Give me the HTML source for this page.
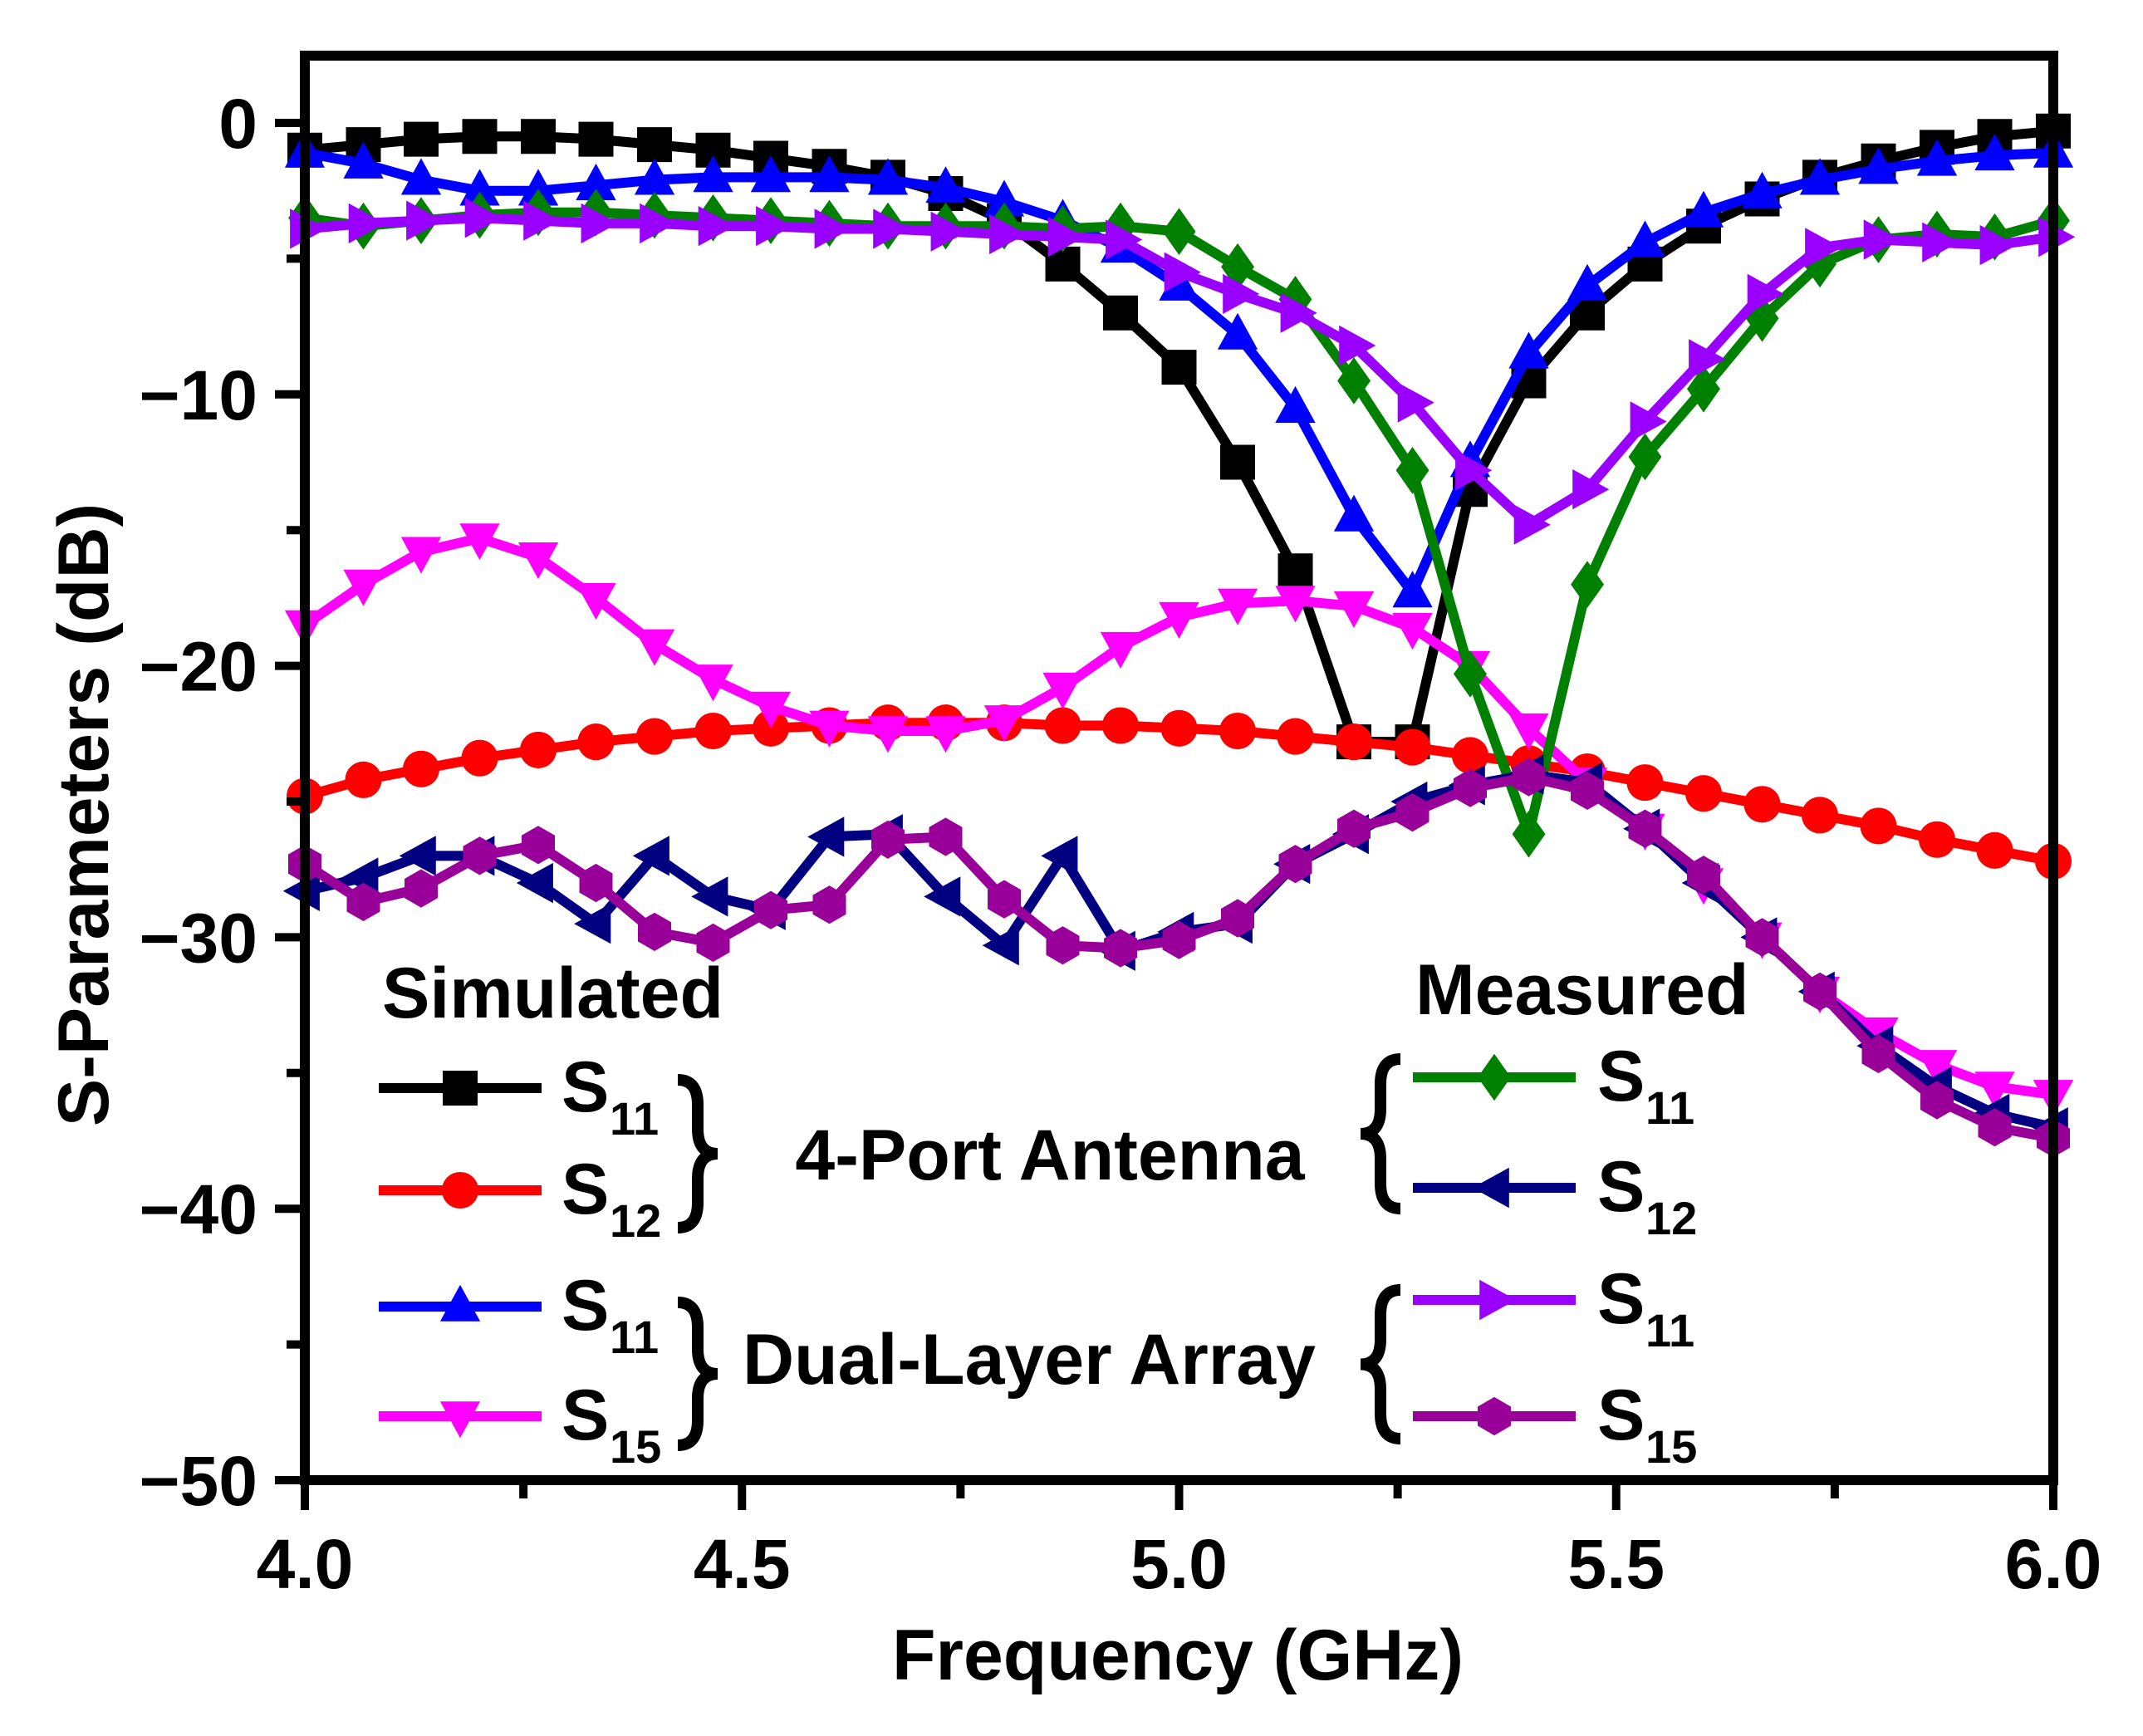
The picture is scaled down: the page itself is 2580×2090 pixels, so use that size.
<!DOCTYPE html>
<html><head><meta charset="utf-8"><style>
html,body{margin:0;padding:0;background:#fff}
svg{display:block;font-family:"Liberation Sans",Arial,sans-serif;font-weight:bold}
</style></head><body>
<svg id="chart" width="2580" height="2090" viewBox="0 0 2580 2090" xmlns="http://www.w3.org/2000/svg">
<g id="series"></g>
<rect x="367" y="67" width="2105" height="1715" fill="none" stroke="#000" stroke-width="12"/>
<g id="axes"></g>
<text x="1418" y="2022" font-size="86" text-anchor="middle">Frequency (GHz)</text>
<text x="0" y="0" font-size="86" text-anchor="middle" transform="translate(130,981) rotate(-90)">S-Parameters (dB)</text>
<g id="legend">
<text x="460" y="1225" font-size="86">Simulated</text>
<text x="1704" y="1221" font-size="86">Measured</text>
<text x="1264" y="1420" font-size="86" text-anchor="middle">4-Port Antenna</text>
<text x="1239" y="1666" font-size="86" text-anchor="middle">Dual-Layer Array</text>
</g>
</svg>
<script>
const freqs = [4.000,4.067,4.133,4.200,4.267,4.333,4.400,4.467,4.533,4.600,4.667,4.733,4.800,4.867,4.933,5.000,5.067,5.133,5.200,5.267,5.333,5.400,5.467,5.533,5.600,5.667,5.733,5.800,5.867,5.933,6.000];
const simS11Port = [-1.0,-0.8,-0.6,-0.5,-0.5,-0.6,-0.8,-1.0,-1.3,-1.6,-2.0,-2.6,-3.6,-5.2,-7.0,-9.0,-12.5,-16.5,-22.8,-22.8,-13.5,-9.5,-7.0,-5.2,-3.8,-2.8,-2.0,-1.4,-0.9,-0.5,-0.3];
const simS12Port = [-24.8,-24.2,-23.8,-23.4,-23.1,-22.8,-22.6,-22.4,-22.3,-22.2,-22.1,-22.1,-22.1,-22.2,-22.2,-22.3,-22.4,-22.6,-22.8,-23.0,-23.3,-23.6,-23.9,-24.3,-24.7,-25.1,-25.5,-25.9,-26.4,-26.8,-27.2];
const simS11Array = [-1.1,-1.5,-2.1,-2.5,-2.5,-2.3,-2.1,-2.0,-2.0,-2.0,-2.1,-2.4,-2.9,-3.6,-4.6,-6.0,-7.8,-10.5,-14.5,-17.3,-12.5,-8.5,-6.0,-4.4,-3.3,-2.6,-2.1,-1.7,-1.4,-1.2,-1.1];
const simS15Array = [-18.5,-17.0,-15.8,-15.3,-16.0,-17.5,-19.2,-20.5,-21.5,-22.2,-22.4,-22.4,-22.0,-20.8,-19.3,-18.2,-17.7,-17.6,-17.8,-18.6,-20.0,-22.3,-24.3,-26.0,-28.0,-30.0,-32.0,-33.5,-34.7,-35.5,-35.8];
const measS11Port = [-3.5,-3.8,-3.6,-3.4,-3.3,-3.3,-3.4,-3.5,-3.6,-3.7,-3.8,-3.8,-3.8,-3.9,-3.8,-4.0,-5.3,-6.5,-9.5,-12.8,-20.3,-26.2,-17.0,-12.3,-9.8,-7.2,-5.2,-4.3,-4.1,-4.2,-3.6];
const measS12Port = [-28.3,-27.8,-27.0,-27.0,-28.0,-29.5,-27.0,-28.5,-29.0,-26.3,-26.2,-28.5,-30.3,-27.0,-30.5,-29.8,-29.5,-27.3,-26.2,-25.0,-24.4,-24.0,-24.3,-26.0,-28.0,-30.0,-32.0,-34.0,-35.5,-36.5,-37.0];
const measS11Array = [-3.9,-3.7,-3.6,-3.5,-3.6,-3.7,-3.7,-3.8,-3.8,-3.9,-3.9,-4.0,-4.1,-4.2,-4.3,-5.5,-6.3,-7.0,-8.2,-10.3,-12.8,-14.8,-13.5,-11.0,-8.7,-6.3,-4.6,-4.3,-4.4,-4.5,-4.2];
const measS15Array = [-27.3,-28.7,-28.2,-27.0,-26.6,-28.0,-29.8,-30.2,-29.0,-28.8,-26.4,-26.3,-28.6,-30.3,-30.4,-30.1,-29.3,-27.3,-26.0,-25.4,-24.5,-24.1,-24.6,-26.0,-27.7,-30.0,-32.0,-34.3,-36.0,-37.0,-37.4];
const xTicks = [4.0,4.5,5.0,5.5,6.0];
const xTickLabels = ["4.0","4.5","5.0","5.5","6.0"];
const yTicks = [0,-10,-20,-30,-40,-50];
const yTickLabels = ["0","\u221210","\u221220","\u221230","\u221240","\u221250"];

const NS="http://www.w3.org/2000/svg";
const X0=367,X1=2472,Y0=148,Y50=1782;
function xs(f){return X0+(f-4)/2*(X1-X0);}
function ys(v){return Y0+(-v)/50*(Y50-Y0);}
function mk(tag,attrs,parent){const e=document.createElementNS(NS,tag);for(const k in attrs)e.setAttribute(k,attrs[k]);parent.appendChild(e);return e;}

function markerPath(type,cx,cy,r){
  const p=(pts)=>'M'+pts.map(q=>q[0].toFixed(1)+','+q[1].toFixed(1)).join('L')+'Z';
  switch(type){
    case 'square': return p([[cx-r,cy-r],[cx+r,cy-r],[cx+r,cy+r],[cx-r,cy+r]]);
    case 'up': return p([[cx,cy-r*1.25],[cx+r*1.15,cy+r*0.85],[cx-r*1.15,cy+r*0.85]]);
    case 'down': return p([[cx,cy+r*1.25],[cx+r*1.15,cy-r*0.85],[cx-r*1.15,cy-r*0.85]]);
    case 'left': return p([[cx-r*1.25,cy],[cx+r*0.85,cy-r*1.15],[cx+r*0.85,cy+r*1.15]]);
    case 'right': return p([[cx+r*1.25,cy],[cx-r*0.85,cy-r*1.15],[cx-r*0.85,cy+r*1.15]]);
    case 'diamond': return p([[cx,cy-r*1.35],[cx+r*0.95,cy],[cx,cy+r*1.35],[cx-r*0.95,cy]]);
    case 'hex': {const a=[];for(let i=0;i<6;i++){const t=Math.PI/6+i*Math.PI/3;a.push([cx+r*1.1*Math.cos(t),cy+r*1.1*Math.sin(t)]);}return p(a);}
  }
  return '';
}

const seriesLayer=document.getElementById('series');
const series=[
  {name:'sim-s11-4port',vals:simS11Port,color:'#000000',m:'square'},
  {name:'sim-s12-4port',vals:simS12Port,color:'#ff0000',m:'circle'},
  {name:'sim-s11-array',vals:simS11Array,color:'#0000ff',m:'up'},
  {name:'sim-s15-array',vals:simS15Array,color:'#ff00ff',m:'down'},
  {name:'meas-s11-4port',vals:measS11Port,color:'#008000',m:'diamond'},
  {name:'meas-s12-4port',vals:measS12Port,color:'#000080',m:'left'},
  {name:'meas-s11-array',vals:measS11Array,color:'#9900ff',m:'right'},
  {name:'meas-s15-array',vals:measS15Array,color:'#990099',m:'hex'}
];
function drawMarker(type,cx,cy,r,color,parent){
  let el;
  if(type==='circle') el=mk('circle',{cx:cx,cy:cy,r:r*1.05,fill:color},parent);
  else el=mk('path',{d:markerPath(type,cx,cy,r),fill:color},parent);
  return el;
}
series.forEach(s=>{
  const g=mk('g',{},seriesLayer);
  
  
  const d=s.vals.map((v,i)=>(i?'L':'M')+xs(freqs[i]).toFixed(1)+','+ys(v).toFixed(1)).join('');
  const line=mk('path',{d:d,fill:'none',stroke:s.color,'stroke-width':12,'stroke-linejoin':'round'},g);
  
  
  s.vals.forEach((v,i)=>{
    const m=drawMarker(s.m,xs(freqs[i]),ys(v),21,s.color,g);
    
    
  });
});

const axes=document.getElementById('axes');
xTicks.forEach((t,i)=>{
  const x=xs(t);
  const tk=mk('line',{x1:x,y1:Y50,x2:x,y2:Y50+36,stroke:'#000','stroke-width':10},axes);
  
  
  const lb=mk('text',{x:x,y:1912,'font-size':84,'text-anchor':'middle'},axes);
  lb.textContent=xTickLabels[i];
  
  
  if(i<xTicks.length-1){
    const mx=xs(t+0.25);
    const mt=mk('line',{x1:mx,y1:Y50,x2:mx,y2:Y50+22,stroke:'#000','stroke-width':10},axes);
    
    
  }
});
yTicks.forEach((t,i)=>{
  const y=ys(t);
  const tk=mk('line',{x1:X0,y1:y,x2:X0-36,y2:y,stroke:'#000','stroke-width':10},axes);
  
  
  const lb=mk('text',{x:310,y:y+30,'font-size':84,'text-anchor':'end'},axes);
  lb.textContent=yTickLabels[i];
  
  
  if(i<yTicks.length-1){
    const my=ys(t-5);
    const mt=mk('line',{x1:X0,y1:my,x2:X0-22,y2:my,stroke:'#000','stroke-width':10},axes);
    
    
  }
});

const legend=document.getElementById('legend');
const legendRows=[
  {s:0,x1:456,x2:652,y:1310,sub:'11',tx:676},
  {s:1,x1:456,x2:652,y:1433,sub:'12',tx:676},
  {s:2,x1:456,x2:652,y:1573,sub:'11',tx:676},
  {s:3,x1:456,x2:652,y:1705,sub:'15',tx:676},
  {s:4,x1:1701,x2:1897,y:1297,sub:'11',tx:1923},
  {s:5,x1:1701,x2:1897,y:1430,sub:'12',tx:1923},
  {s:6,x1:1701,x2:1897,y:1565,sub:'11',tx:1923},
  {s:7,x1:1701,x2:1897,y:1705,sub:'15',tx:1923}
];
legendRows.forEach(r=>{
  const s=series[r.s];
  const g=mk('g',{},legend);
  
  
  mk('line',{x1:r.x1,y1:r.y,x2:r.x2,y2:r.y,stroke:s.color,'stroke-width':12},g);
  drawMarker(s.m,(r.x1+r.x2)/2,r.y,21,s.color,g);
  const t=mk('text',{x:r.tx,y:r.y+28,'font-size':86},g);
  t.textContent='S';
  const sb=mk('text',{x:r.tx+58,y:r.y+56,'font-size':56},g);
  sb.textContent=r.sub;
});
function brace(x,y1,y2,dir,name){
  const ym=(y1+y2)/2,w=24*dir;
  const d=`M${x-w},${y1} Q${x},${y1} ${x},${y1+30} L${x},${ym-30} Q${x},${ym} ${x+w},${ym} Q${x},${ym} ${x},${ym+30} L${x},${y2-30} Q${x},${y2} ${x-w},${y2}`;
  const p=mk('path',{d:d,fill:'none',stroke:'#000','stroke-width':14},legend);
  
  
}
brace(840,1300,1478,1,'brace-sim-4port');
brace(840,1568,1740,1,'brace-sim-array');
brace(1662,1275,1455,-1,'brace-meas-4port');
brace(1662,1553,1732,-1,'brace-meas-array');
</script>
</body></html>
